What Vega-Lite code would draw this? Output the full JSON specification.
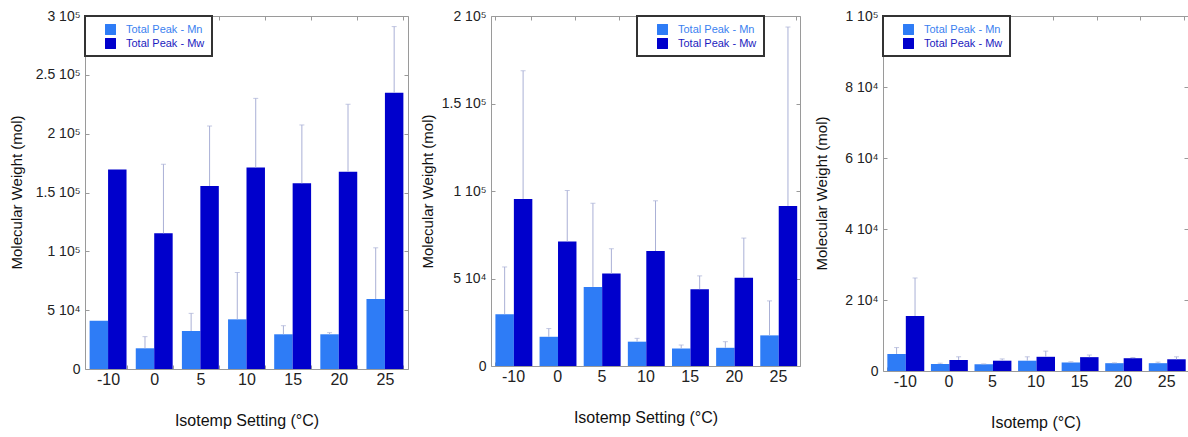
{
  "$schema": "https://vega.github.io/schema/vega-lite/v6.json",
  "background": "white",
  "padding": {"left": 8, "top": 8, "right": 0, "bottom": 0},
  "spacing": 83,
  "bounds": "flush",
  "datasets": {
    "p1": [
      {"temp": "-10", "series": "Total Peak - Mn", "value": 41000, "hi": null},
      {"temp": "-10", "series": "Total Peak - Mw", "value": 169500, "hi": null},
      {"temp": "0", "series": "Total Peak - Mn", "value": 17600, "hi": 27500},
      {"temp": "0", "series": "Total Peak - Mw", "value": 115300, "hi": 174000},
      {"temp": "5", "series": "Total Peak - Mn", "value": 32300, "hi": 47300},
      {"temp": "5", "series": "Total Peak - Mw", "value": 155500, "hi": 206500},
      {"temp": "10", "series": "Total Peak - Mn", "value": 42200, "hi": 82000},
      {"temp": "10", "series": "Total Peak - Mw", "value": 171300, "hi": 230000},
      {"temp": "15", "series": "Total Peak - Mn", "value": 29500, "hi": 36800},
      {"temp": "15", "series": "Total Peak - Mw", "value": 157800, "hi": 207400},
      {"temp": "20", "series": "Total Peak - Mn", "value": 29500, "hi": 30900},
      {"temp": "20", "series": "Total Peak - Mw", "value": 167700, "hi": 225000},
      {"temp": "25", "series": "Total Peak - Mn", "value": 59500, "hi": 103000},
      {"temp": "25", "series": "Total Peak - Mw", "value": 234800, "hi": 291000}
    ],
    "p2": [
      {"temp": "-10", "series": "Total Peak - Mn", "value": 29600, "hi": 56600},
      {"temp": "-10", "series": "Total Peak - Mw", "value": 95500, "hi": 168700},
      {"temp": "0", "series": "Total Peak - Mn", "value": 16700, "hi": 21400},
      {"temp": "0", "series": "Total Peak - Mw", "value": 71200, "hi": 100300},
      {"temp": "5", "series": "Total Peak - Mn", "value": 45200, "hi": 93000},
      {"temp": "5", "series": "Total Peak - Mw", "value": 52800, "hi": 67000},
      {"temp": "10", "series": "Total Peak - Mn", "value": 13900, "hi": 15800},
      {"temp": "10", "series": "Total Peak - Mw", "value": 65700, "hi": 94400},
      {"temp": "15", "series": "Total Peak - Mn", "value": 10000, "hi": 12000},
      {"temp": "15", "series": "Total Peak - Mw", "value": 43900, "hi": 51500},
      {"temp": "20", "series": "Total Peak - Mn", "value": 10400, "hi": 13900},
      {"temp": "20", "series": "Total Peak - Mw", "value": 50500, "hi": 73100},
      {"temp": "25", "series": "Total Peak - Mn", "value": 17500, "hi": 37200},
      {"temp": "25", "series": "Total Peak - Mw", "value": 91500, "hi": 193700}
    ],
    "p3": [
      {"temp": "-10", "series": "Total Peak - Mn", "value": 4800, "hi": 6600},
      {"temp": "-10", "series": "Total Peak - Mw", "value": 15500, "hi": 26200},
      {"temp": "0", "series": "Total Peak - Mn", "value": 2000, "hi": 2200},
      {"temp": "0", "series": "Total Peak - Mw", "value": 3100, "hi": 4000},
      {"temp": "5", "series": "Total Peak - Mn", "value": 1900, "hi": 2000},
      {"temp": "5", "series": "Total Peak - Mw", "value": 2900, "hi": 3400},
      {"temp": "10", "series": "Total Peak - Mn", "value": 2900, "hi": 4000},
      {"temp": "10", "series": "Total Peak - Mw", "value": 4000, "hi": 5600},
      {"temp": "15", "series": "Total Peak - Mn", "value": 2400, "hi": 2600},
      {"temp": "15", "series": "Total Peak - Mw", "value": 3900, "hi": 4500},
      {"temp": "20", "series": "Total Peak - Mn", "value": 2200, "hi": 2300},
      {"temp": "20", "series": "Total Peak - Mw", "value": 3600, "hi": 3800},
      {"temp": "25", "series": "Total Peak - Mn", "value": 2200, "hi": 2500},
      {"temp": "25", "series": "Total Peak - Mw", "value": 3300, "hi": 4000}
    ]
  },
  "hconcat": [
    {
      "width": 323, "height": 353,
      "data": {"name": "p1"},
      "layer": [
        {
          "mark": {"type": "bar"},
          "encoding": {
            "x": {"field": "temp", "type": "nominal", "sort": ["-10","0","5","10","15","20","25"], "scale": {"paddingInner": 0.2, "paddingOuter": 0.1},
              "axis": {"orient": "bottom", "title": "Isotemp Setting (°C)", "labelAngle": 0, "tickBand": "extent", "tickSize": -4, "titleY": 51, "titleBaseline": "middle"}},
            "xOffset": {"field": "series", "type": "nominal", "sort": ["Total Peak - Mn","Total Peak - Mw"]},
            "y": {"field": "value", "type": "quantitative", "scale": {"domain": [0, 300000], "nice": false},
              "axis": {"orient": "left", "values": [0,50000,100000,150000,200000,250000,300000], "title": "Molecular Weight (mol)", "titleX": -69, "titleY": 176, "titleBaseline": "middle", "tickSize": -4,
                "labelExpr": "datum.value == 0 ? '0' : format(datum.value / pow(10, floor(log(datum.value)/LN10 + 1e-9)), '~g') + ' 10' + (floor(log(datum.value)/LN10 + 1e-9) == 4 ? '⁴' : '⁵')"}},
            "color": {"field": "series", "type": "nominal", "scale": {"domain": ["Total Peak - Mn","Total Peak - Mw"], "range": ["#2e7cf6","#0000cc"]},
              "legend": {"title": null, "orient": "none", "legendX": 0, "legendY": 0, "symbolType": "square", "symbolSize": 120, "symbolOffset": 12, "labelOffset": 9, "rowPadding": 2, "padding": 7, "labelFontSize": 11, "strokeColor": "#333", "fillColor": "white",
                "encode": {"labels": {"update": {"fill": {"signal": "datum.value == 'Total Peak - Mn' ? '#3b7ff0' : '#1c1cc0'"}}}, "legend": {"update": {"strokeWidth": {"value": 2}}}}}}
          }
        },
        {
          "transform": [{"filter": "datum.hi != null"}],
          "mark": {"type": "rule", "color": "#aab0d6", "strokeWidth": 1},
          "encoding": {
            "x": {"field": "temp", "type": "nominal", "sort": ["-10","0","5","10","15","20","25"], "axis": {"orient": "top", "labels": false, "title": null, "tickBand": "extent", "tickSize": -4}},
            "xOffset": {"field": "series", "type": "nominal", "sort": ["Total Peak - Mn","Total Peak - Mw"]},
            "y": {"field": "value", "type": "quantitative", "axis": {"orient": "right", "labels": false, "title": null, "values": [0,50000,100000,150000,200000,250000,300000], "tickSize": -4}},
            "y2": {"field": "hi"}
          }
        },
        {
          "transform": [{"filter": "datum.hi != null"}],
          "mark": {"type": "tick", "color": "#aab0d6", "thickness": 1, "size": 5},
          "encoding": {
            "x": {"field": "temp", "type": "nominal", "sort": ["-10","0","5","10","15","20","25"], "axis": null},
            "xOffset": {"field": "series", "type": "nominal", "sort": ["Total Peak - Mn","Total Peak - Mw"]},
            "y": {"field": "hi", "type": "quantitative", "axis": null}
          }
        }
      ],
      "resolve": {"axis": {"x": "independent", "y": "independent"}}
    },
    {
      "width": 309, "height": 350,
      "data": {"name": "p2"},
      "layer": [
        {
          "mark": {"type": "bar"},
          "encoding": {
            "x": {"field": "temp", "type": "nominal", "sort": ["-10","0","5","10","15","20","25"], "scale": {"paddingInner": 0.2, "paddingOuter": 0.1},
              "axis": {"orient": "bottom", "title": "Isotemp Setting (°C)", "labelAngle": 0, "tickBand": "extent", "tickSize": -4, "titleY": 51, "titleBaseline": "middle"}},
            "xOffset": {"field": "series", "type": "nominal", "sort": ["Total Peak - Mn","Total Peak - Mw"]},
            "y": {"field": "value", "type": "quantitative", "scale": {"domain": [0, 200000], "nice": false},
              "axis": {"orient": "left", "values": [0,50000,100000,150000,200000], "title": "Molecular Weight (mol)", "titleX": -64, "titleY": 175, "titleBaseline": "middle", "tickSize": -4,
                "labelExpr": "datum.value == 0 ? '0' : format(datum.value / pow(10, floor(log(datum.value)/LN10 + 1e-9)), '~g') + ' 10' + (floor(log(datum.value)/LN10 + 1e-9) == 4 ? '⁴' : '⁵')"}},
            "color": {"field": "series", "type": "nominal", "scale": {"domain": ["Total Peak - Mn","Total Peak - Mw"], "range": ["#2e7cf6","#0000cc"]},
              "legend": {"title": null, "orient": "none", "legendX": 146, "legendY": 0, "symbolType": "square", "symbolSize": 120, "symbolOffset": 12, "labelOffset": 9, "rowPadding": 2, "padding": 7, "labelFontSize": 11, "strokeColor": "#333", "fillColor": "white",
                "encode": {"labels": {"update": {"fill": {"signal": "datum.value == 'Total Peak - Mn' ? '#3b7ff0' : '#1c1cc0'"}}}, "legend": {"update": {"strokeWidth": {"value": 2}}}}}}
          }
        },
        {
          "transform": [{"filter": "datum.hi != null"}],
          "mark": {"type": "rule", "color": "#aab0d6", "strokeWidth": 1},
          "encoding": {
            "x": {"field": "temp", "type": "nominal", "sort": ["-10","0","5","10","15","20","25"], "axis": {"orient": "top", "labels": false, "title": null, "tickBand": "extent", "tickSize": -4}},
            "xOffset": {"field": "series", "type": "nominal", "sort": ["Total Peak - Mn","Total Peak - Mw"]},
            "y": {"field": "value", "type": "quantitative", "axis": {"orient": "right", "labels": false, "title": null, "values": [0,50000,100000,150000,200000], "tickSize": -4}},
            "y2": {"field": "hi"}
          }
        },
        {
          "transform": [{"filter": "datum.hi != null"}],
          "mark": {"type": "tick", "color": "#aab0d6", "thickness": 1, "size": 5},
          "encoding": {
            "x": {"field": "temp", "type": "nominal", "sort": ["-10","0","5","10","15","20","25"], "axis": null},
            "xOffset": {"field": "series", "type": "nominal", "sort": ["Total Peak - Mn","Total Peak - Mw"]},
            "y": {"field": "hi", "type": "quantitative", "axis": null}
          }
        }
      ],
      "resolve": {"axis": {"x": "independent", "y": "independent"}}
    },
    {
      "width": 305, "height": 355,
      "data": {"name": "p3"},
      "layer": [
        {
          "mark": {"type": "bar"},
          "encoding": {
            "x": {"field": "temp", "type": "nominal", "sort": ["-10","0","5","10","15","20","25"], "scale": {"paddingInner": 0.2, "paddingOuter": 0.1},
              "axis": {"orient": "bottom", "title": "Isotemp (°C)", "labelAngle": 0, "tickBand": "extent", "tickSize": -4, "titleY": 51, "titleBaseline": "middle"}},
            "xOffset": {"field": "series", "type": "nominal", "sort": ["Total Peak - Mn","Total Peak - Mw"]},
            "y": {"field": "value", "type": "quantitative", "scale": {"domain": [0, 100000], "nice": false},
              "axis": {"orient": "left", "values": [0,20000,40000,60000,80000,100000], "title": "Molecular Weight (mol)", "titleX": -62, "titleY": 177, "titleBaseline": "middle", "tickSize": -4,
                "labelExpr": "datum.value == 0 ? '0' : format(datum.value / pow(10, floor(log(datum.value)/LN10 + 1e-9)), '~g') + ' 10' + (floor(log(datum.value)/LN10 + 1e-9) == 4 ? '⁴' : '⁵')"}},
            "color": {"field": "series", "type": "nominal", "scale": {"domain": ["Total Peak - Mn","Total Peak - Mw"], "range": ["#2e7cf6","#0000cc"]},
              "legend": {"title": null, "orient": "none", "legendX": 0, "legendY": 0, "symbolType": "square", "symbolSize": 120, "symbolOffset": 12, "labelOffset": 9, "rowPadding": 2, "padding": 7, "labelFontSize": 11, "strokeColor": "#333", "fillColor": "white",
                "encode": {"labels": {"update": {"fill": {"signal": "datum.value == 'Total Peak - Mn' ? '#3b7ff0' : '#1c1cc0'"}}}, "legend": {"update": {"strokeWidth": {"value": 2}}}}}}
          }
        },
        {
          "transform": [{"filter": "datum.hi != null"}],
          "mark": {"type": "rule", "color": "#aab0d6", "strokeWidth": 1},
          "encoding": {
            "x": {"field": "temp", "type": "nominal", "sort": ["-10","0","5","10","15","20","25"], "axis": {"orient": "top", "labels": false, "title": null, "tickBand": "extent", "tickSize": -4}},
            "xOffset": {"field": "series", "type": "nominal", "sort": ["Total Peak - Mn","Total Peak - Mw"]},
            "y": {"field": "value", "type": "quantitative", "axis": {"orient": "right", "labels": false, "title": null, "values": [0,20000,40000,60000,80000,100000], "tickSize": -4}},
            "y2": {"field": "hi"}
          }
        },
        {
          "transform": [{"filter": "datum.hi != null"}],
          "mark": {"type": "tick", "color": "#aab0d6", "thickness": 1, "size": 5},
          "encoding": {
            "x": {"field": "temp", "type": "nominal", "sort": ["-10","0","5","10","15","20","25"], "axis": null},
            "xOffset": {"field": "series", "type": "nominal", "sort": ["Total Peak - Mn","Total Peak - Mw"]},
            "y": {"field": "hi", "type": "quantitative", "axis": null}
          }
        }
      ],
      "resolve": {"axis": {"x": "independent", "y": "independent"}}
    }
  ],
  "resolve": {"scale": {"x": "independent", "y": "independent", "color": "independent"}, "legend": {"color": "independent"}},
  "config": {
    "font": "Liberation Sans",
    "view": {"stroke": "#9a9a9a", "strokeWidth": 1},
    "axis": {"grid": false, "domain": false, "tickColor": "#9a9a9a", "labelColor": "#222", "labelFont": "Liberation Sans", "titleFont": "Liberation Sans", "titleColor": "#111", "titleFontWeight": "normal"},
    "axisX": {"labelFontSize": 16, "titleFontSize": 16, "labelPadding": 6},
    "axisY": {"labelFontSize": 14, "titleFontSize": 15, "labelPadding": 9},
    "legend": {"labelFont": "Liberation Sans"}
  }
}
